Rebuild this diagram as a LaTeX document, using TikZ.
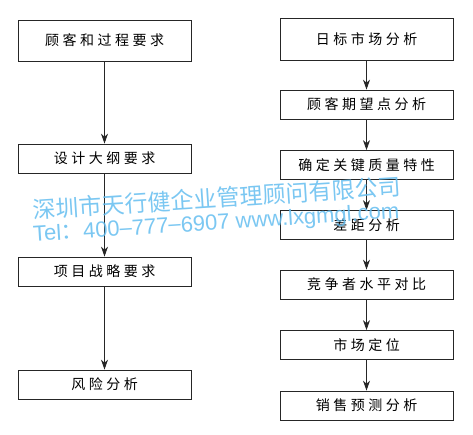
\documentclass[tikz,border=0pt]{standalone}
\usepackage{fontspec}
\usetikzlibrary{arrows.meta}
\newfontfamily\boxfont[LetterSpace=25]{Noto Sans CJK SC}
\newfontfamily\wmfont{Noto Sans CJK SC}
\newfontfamily\wmlatin{Liberation Sans}
\definecolor{wmblue}{RGB}{100,190,240}
\tikzset{
  stepbox/.style={draw=black!85, line width=0.8pt, minimum height=#1, inner sep=0pt,
    font=\boxfont\fontsize{14}{15}\selectfont},
  lbox/.style={stepbox=29pt, minimum width=173pt},
  rbox/.style={stepbox=29pt, minimum width=173pt},
  arr/.style={draw=black!85, line width=0.8pt, -{Stealth[length=10pt,width=7pt]}},
  wm/.style={text=wmblue, opacity=0.85, inner sep=0pt, anchor=west, rotate=3.7}
}
\begin{document}
\begin{tikzpicture}[x=1pt,y=-1pt]
\useasboundingbox[fill=white] (0,0) rectangle (473,435);
% left column
\node[lbox, minimum height=41pt] (l1) at (104.5,40.5) {顾客和过程要求};
\node[lbox] (l2) at (104.5,158.5) {设计大纲要求};
\node[lbox] (l3) at (104.5,271.5) {项目战略要求};
\node[lbox] (l4) at (104.5,384.5) {风险分析};
\draw[arr] (l1.south) -- (l2.north);
\draw[arr] (l2.south) -- (l3.north);
\draw[arr] (l3.south) -- (l4.north);
% right column
\node[rbox, minimum height=42pt] (r1) at (366.5,39) {日标市场分析};
\node[rbox] (r2) at (366.5,104.5) {顾客期望点分析};
\node[rbox] (r3) at (366.5,165) {确定关键质量特性};
\node[rbox] (r4) at (366.5,225) {差距分析};
\node[rbox] (r5) at (366.5,284.5) {竞争者水平对比};
\node[rbox] (r6) at (366.5,345) {市场定位};
\node[rbox] (r7) at (366.5,405.5) {销售预测分析};
\draw[arr] (r1.south) -- (r2.north);
\draw[arr] (r2.south) -- (r3.north);
\draw[arr] (r3.south) -- (r4.north);
\draw[arr] (r4.south) -- (r5.north);
\draw[arr] (r5.south) -- (r6.north);
\draw[arr] (r6.south) -- (r7.north);
% watermark
\node[wm, font=\wmfont\fontsize{23}{24}\selectfont] (wm1) at (33,210) {深圳市天行健企业管理顾问有限公司};
\node[wm, font=\wmlatin\fontsize{22}{24}\selectfont] (wm2) at (33,236) {Tel{\wmfont ：}400\raisebox{1pt}{–}777\raisebox{1pt}{–}6907 www.lxgmgl.com};
\end{tikzpicture}
\end{document}
